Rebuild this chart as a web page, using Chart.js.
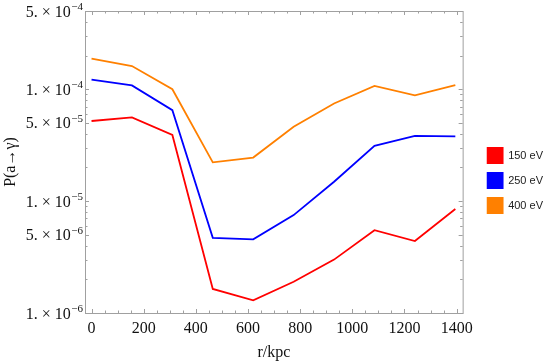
<!DOCTYPE html>
<html>
<head>
<meta charset="utf-8">
<script src="https://cdn.jsdelivr.net/npm/chart.js@4/dist/chart.umd.min.js"></script>
<style>
    html, body { margin: 0; padding: 0; background: #fff; }
    #wrap { width: 548px; height: 362px; }
</style>
</head>
<body>
<div id="wrap"><canvas id="chartCanvas"></canvas></div>
<script>
const radii = [0, 155, 310, 465, 620, 775, 930, 1085, 1240, 1395]
const prob150 = [5.2e-5, 5.6e-5, 3.9e-5, 1.64e-6, 1.30e-6, 1.9e-6, 3.0e-6, 5.5e-6, 4.4e-6, 8.5e-6]
const prob250 = [1.22e-4, 1.08e-4, 6.5e-5, 4.7e-6, 4.55e-6, 7.5e-6, 1.49e-5, 3.12e-5, 3.83e-5, 3.79e-5]
const prob400 = [1.88e-4, 1.61e-4, 1.0e-4, 2.22e-5, 2.45e-5, 4.61e-5, 7.45e-5, 1.07e-4, 8.8e-5, 1.09e-4]
const seriesNames = ['150 eV', '250 eV', '400 eV']
const xTicks = [0, 200, 400, 600, 800, 1000, 1200, 1400]
const yTicks = [1e-6, 5e-6, 1e-5, 5e-5, 1e-4, 5e-4]
const yTickBases = ['1. \u00d7 10', '5. \u00d7 10', '1. \u00d7 10', '5. \u00d7 10', '1. \u00d7 10', '5. \u00d7 10']
const yTickExps = ['\u22126', '\u22126', '\u22125', '\u22125', '\u22124', '\u22124']

const frameColor = '#a0a0a0'
const serif = 'Liberation Serif'

// frame + inward ticks on all four sides, like the original plot
const framePlugin = {
    id: 'frame',
    afterLayout(chart) {
        // nudge the legend to where the original has it
        const lg = chart.legend
        lg.left += 15
        lg.right += 15
        lg.top -= 6
        lg.bottom -= 6
    },
    afterDraw(chart) {
        const ctx = chart.ctx
        const a = chart.chartArea
        const xs = chart.scales.x
        const ys = chart.scales.y
        ctx.save()
        ctx.strokeStyle = frameColor
        ctx.lineWidth = 1
        ctx.strokeRect(a.left + 0.5, a.top + 0.5, a.right - a.left, a.bottom - a.top)

        const tick = (x1, y1, x2, y2) => {
            ctx.beginPath()
            ctx.moveTo(x1, y1)
            ctx.lineTo(x2, y2)
            ctx.stroke()
        }
        for (let v = 0; v <= 1400; v += 50) {
            const x = Math.round(xs.getPixelForValue(v)) + 0.5
            const len = v % 200 === 0 ? 4 : 2.5
            tick(x, a.bottom, x, a.bottom - len)
            tick(x, a.top, x, a.top + len)
        }
        for (let e = -6; e <= -4; e++) {
            for (let m = 1; m <= 9; m++) {
                const v = m * Math.pow(10, e)
                if (v > 5e-4) continue
                const y = Math.round(ys.getPixelForValue(v)) + 0.5
                const len = (m === 1 || m === 5) ? 4 : 2.5
                tick(a.left, y, a.left + len, y)
                tick(a.right, y, a.right - len, y)
            }
        }

        // y labels in the "m. x 10^e" form with a raised exponent
        ctx.fillStyle = '#111'
        ctx.textBaseline = 'alphabetic'
        yTicks.forEach((v, i) => {
            const y = ys.getPixelForValue(v)
            ctx.font = `11px "${serif}"`
            const expW = ctx.measureText(yTickExps[i]).width
            const right = a.left - 2
            ctx.textAlign = 'right'
            ctx.fillText(yTickExps[i], right, y - 1)
            ctx.font = `16px "${serif}"`
            ctx.fillText(yTickBases[i], right - expW - 0.5, y + 5.5)
        })
        ctx.restore()
    }
}

class App {

    constructor() {
        this.canvas = document.getElementById('chartCanvas')
        this.myChart = null
    }

    run = () => {
        const ctx = this.canvas.getContext('2d')
        const colors = ['#ff0000', '#0000ff', '#ff8000']
        const values = [prob150, prob250, prob400]

        const datasets = values.map((list, i) => ({
            label: seriesNames[i],
            data: list.map((v, j) => ({ x: radii[j], y: v })),
            borderColor: colors[i],
            backgroundColor: colors[i],
            borderWidth: 1.8,
            pointRadius: 0,
            tension: 0
        }))

        this.myChart = new Chart(ctx, {
            type: 'line',
            data: { datasets: datasets },
            plugins: [framePlugin],
            options: {
                responsive: true,
                maintainAspectRatio: false,
                animation: false,
                layout: { padding: { top: 11, right: 10, bottom: 0, left: 0 } },
                plugins: {
                    tooltip: { enabled: false },
                    legend: {
                        position: 'right',
                        labels: {
                            boxWidth: 15,
                            boxHeight: 15,
                            padding: 10,
                            color: '#222',
                            font: { family: 'Liberation Sans', size: 11 }
                        }
                    }
                },
                scales: {
                    x: {
                        type: 'linear',
                        min: -25,
                        max: 1423,
                        afterBuildTicks: s => { s.ticks = xTicks.map(v => ({ value: v })) },
                        afterFit: s => { s.height = 49 },
                        grid: { display: false, drawTicks: false },
                        border: { display: false },
                        ticks: {
                            padding: 6,
                            color: '#111',
                            maxRotation: 0,
                            font: { family: serif, size: 16 },
                            callback: v => String(v)
                        },
                        title: {
                            display: true,
                            text: 'r/kpc',
                            color: '#111',
                            padding: { top: 0, bottom: 0 },
                            font: { family: serif, size: 16 }
                        }
                    },
                    y: {
                        type: 'logarithmic',
                        min: 1e-6,
                        max: 5e-4,
                        afterBuildTicks: s => { s.ticks = yTicks.map(v => ({ value: v })) },
                        afterFit: s => { s.width = 85 },
                        grid: { display: false, drawTicks: false },
                        border: { display: false },
                        ticks: { display: false },
                        title: {
                            display: true,
                            text: 'P(a\u2192\u03b3)',
                            color: '#111',
                            padding: { top: 1, bottom: 0 },
                            font: { family: serif, size: 16 }
                        }
                    }
                }
            }
        })
    }
}

window.addEventListener('load', () => {
    const app = new App()
    app.run()
})
</script>
</body>
</html>
